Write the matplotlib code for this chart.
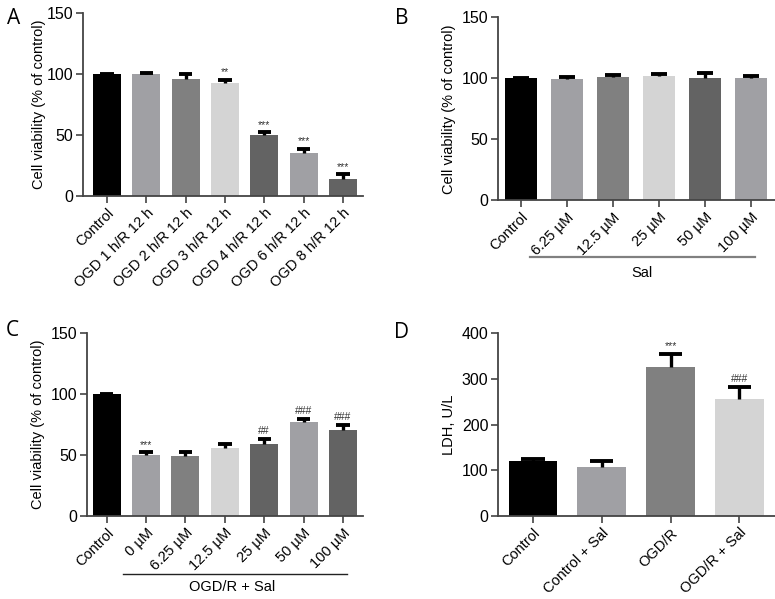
"""Cell viability and LDH bar panels (A-D) redrawn with matplotlib."""

import matplotlib
matplotlib.use("Agg")
import matplotlib.pyplot as plt
import numpy as np

plt.rcParams["font.family"] = ["Liberation Sans", "DejaVu Sans"]
plt.rcParams["font.size"] = 10

BLACK = "#000000"
LIGHT = "#a0a0a4"
MID = "#808080"
PALE = "#d4d4d4"
DARK = "#636363"
SPINE = "#444444"

# Panel A: OGD duration
a_labels = ["Control", "OGD 1 h/R 12 h", "OGD 2 h/R 12 h", "OGD 3 h/R 12 h",
            "OGD 4 h/R 12 h", "OGD 6 h/R 12 h", "OGD 8 h/R 12 h"]
a_values = [100, 100, 96.2, 92.7, 49.6, 35.4, 14.3]
a_errors = [0.4, 1.2, 3.8, 2.7, 2.8, 3.3, 3.5]
a_marks = ["", "", "", "**", "***", "***", "***"]
a_colors = [BLACK, LIGHT, MID, PALE, DARK, LIGHT, DARK]

# Panel B: Sal alone
b_labels = ["Control", "6.25 µM", "12.5 µM", "25 µM", "50 µM", "100 µM"]
b_values = [100.3, 99.2, 101.1, 101.6, 100.5, 100.0]
b_errors = [0.3, 1.9, 1.9, 2.2, 3.9, 1.6]
b_colors = [BLACK, LIGHT, MID, PALE, DARK, LIGHT]

# Panel C: OGD/R + Sal
c_labels = ["Control", "0 µM", "6.25 µM", "12.5 µM", "25 µM", "50 µM", "100 µM"]
c_values = [100, 49.8, 49.3, 56.1, 59.1, 76.9, 70.4]
c_errors = [0.3, 2.5, 3.3, 3.3, 4.4, 2.8, 4.6]
c_marks = ["", "***", "", "", "##", "###", "###"]
c_colors = [BLACK, LIGHT, MID, PALE, DARK, LIGHT, DARK]

# Panel D: LDH release
d_labels = ["Control", "Control + Sal", "OGD/R", "OGD/R + Sal"]
d_values = [121, 108, 327, 257]
d_errors = [4.5, 13, 27, 25.5]
d_marks = ["", "", "***", "###"]
d_colors = [BLACK, LIGHT, MID, PALE]


def bar_panel(ax, labels, values, errors, colors, xlim, ylim, yticks,
              ylabel, marks=None, mark_pad=2.0, labelpad=4):
    x = np.arange(len(values))
    values = np.asarray(values, dtype=float)
    tops = values + np.asarray(errors, dtype=float)
    ax.bar(x, values, width=0.71, color=colors, edgecolor="none", zorder=2)
    # upward-only error bars with a cap half as wide as the bar
    ax.vlines(x, values, tops, color="black", lw=2.4, zorder=3)
    ax.hlines(tops, x - 0.17, x + 0.17, color="black", lw=2.8, zorder=3)
    if marks:
        for xi, top, m in zip(x, tops, marks):
            if m:
                ax.text(xi, top + mark_pad, m, ha="center", va="bottom",
                        fontsize=7.5, color="#333333")
    ax.set_xlim(*xlim)
    ax.set_ylim(*ylim)
    ax.set_yticks(yticks)
    ax.set_xticks(x)
    ax.set_xticklabels(labels, rotation=45, ha="right", rotation_mode="anchor",
                       fontsize=10.5)
    ax.set_ylabel(ylabel, fontsize=10.5, labelpad=labelpad)
    ax.tick_params(axis="y", labelsize=11.5, length=5, width=1.2,
                   color=SPINE, pad=2)
    ax.tick_params(axis="x", length=5, width=1.2, color=SPINE, pad=2)
    for side in ("top", "right"):
        ax.spines[side].set_visible(False)
    for side in ("left", "bottom"):
        ax.spines[side].set_color(SPINE)
        ax.spines[side].set_linewidth(1.3)


fig = plt.figure(figsize=(7.75, 5.99), dpi=100)

ax_a = fig.add_axes([0.1071, 0.6728, 0.3613, 0.3055])
ax_b = fig.add_axes([0.6422, 0.6656, 0.3578, 0.3055])
ax_c = fig.add_axes([0.1123, 0.1386, 0.3561, 0.3050])
ax_d = fig.add_axes([0.6426, 0.1386, 0.3574, 0.3050])

viability = "Cell viability (% of control)"
bar_panel(ax_a, a_labels, a_values, a_errors, a_colors, (-0.61, 6.51),
          (0, 150), [0, 50, 100, 150], viability, a_marks, labelpad=0.5)
bar_panel(ax_b, b_labels, b_values, b_errors, b_colors, (-0.51, 5.52),
          (0, 150), [0, 50, 100, 150], viability)
bar_panel(ax_c, c_labels, c_values, c_errors, c_colors, (-0.5, 6.51),
          (0, 150), [0, 50, 100, 150], viability, c_marks)
bar_panel(ax_d, d_labels, d_values, d_errors, d_colors, (-0.51, 3.52),
          (0, 400), [0, 100, 200, 300, 400], "LDH, U/L", d_marks,
          mark_pad=6)

# group brackets under the x tick labels
fig.add_artist(plt.Line2D([530 / 775, 755 / 775], [1 - 257 / 599] * 2,
                          color="#808080", lw=1.6))
fig.text(642 / 775, 1 - 273 / 599, "Sal", ha="center", va="center",
         fontsize=10.5)
fig.add_artist(plt.Line2D([123 / 775, 347 / 775], [1 - 574 / 599] * 2,
                          color="#222222", lw=1.0))
fig.text(232 / 775, 1 - 587 / 599, "OGD/R + Sal", ha="center", va="center",
         fontsize=10.5)

for letter, (px, py) in zip("ABCD", [(14, 18), (402, 18), (12, 331), (402, 333)]):
    fig.text(px / 775, 1 - py / 599, letter, ha="center", va="center",
             fontsize=15, family=["Open Sans", "DejaVu Sans"])

fig.savefig("out.png", dpi=100)
